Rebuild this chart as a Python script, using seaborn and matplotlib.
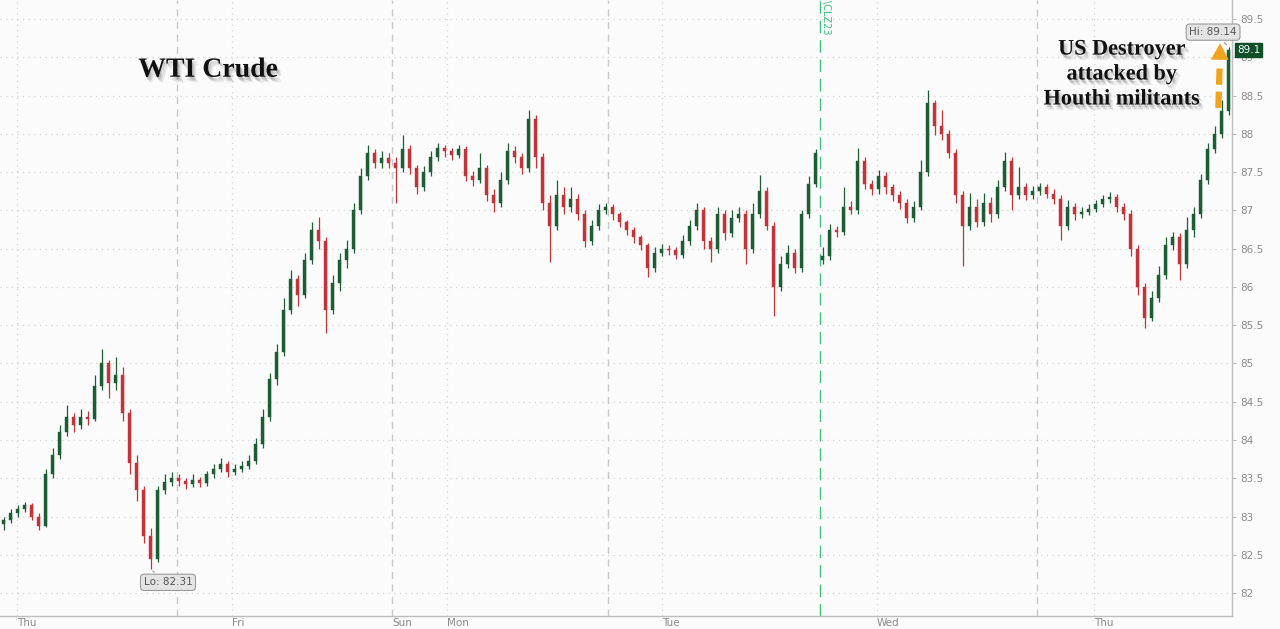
"""
wti_crude_candles.py
Recreates the WTI crude intraday candlestick chart (week view) with the
Houthi / US destroyer annotation.
"""

import numpy as np
import pandas as pd
import matplotlib
matplotlib.use("Agg")
import matplotlib.pyplot as plt
import matplotlib.patheffects as pe
import seaborn as sns

# ==============================================================================
# DATA (one candle per ~40 minutes)
# ==============================================================================

FIRST_OPEN = 82.90
GAP_OPENS = {117: 86.35}   # contract roll: new open after the CLZ23 line

CLOSES = [
    82.95, 83.05, 83.10, 83.15, 83.00, 82.88, 83.55, 83.80, 84.10, 84.30,
    84.20, 84.30, 84.28, 84.70, 85.00, 84.75, 84.85, 84.35, 83.70, 83.35,
    82.75, 82.45, 83.35, 83.45, 83.50, 83.46, 83.42, 83.48, 83.44, 83.55,
    83.62, 83.68, 83.58, 83.62, 83.66, 83.72, 83.95, 84.30, 84.80, 85.15,
    85.70, 86.10, 85.90, 86.35, 86.75, 86.60, 85.70, 86.05, 86.35, 86.50,
    87.00, 87.45, 87.75, 87.62, 87.68, 87.62, 87.55, 87.80, 87.55, 87.30,
    87.50, 87.70, 87.82, 87.78, 87.72, 87.80, 87.45, 87.40, 87.55, 87.20,
    87.10, 87.40, 87.78, 87.70, 87.55, 88.20, 87.70, 87.10, 86.80, 87.20,
    87.05, 87.15, 86.95, 86.60, 86.80, 87.00, 87.05, 86.95, 86.85, 86.75,
    86.65, 86.55, 86.25, 86.45, 86.50, 86.48, 86.42, 86.60, 86.80, 87.00,
    86.60, 86.50, 86.95, 86.70, 86.90, 86.95, 86.50, 86.95, 87.25, 86.80,
    86.00, 86.30, 86.45, 86.25, 86.95, 87.35, 87.75, 86.40, 86.75, 86.72,
    87.05, 87.00, 87.65, 87.35, 87.28, 87.45, 87.30, 87.20, 87.10, 86.90,
    87.05, 87.50, 88.40, 88.10, 88.00, 87.75, 87.20, 86.80, 87.05, 86.85,
    87.10, 86.95, 87.30, 87.65, 87.20, 87.30, 87.20, 87.25, 87.30, 87.22,
    87.15, 86.80, 87.05, 86.95, 86.98, 87.02, 87.08, 87.15, 87.18, 87.05,
    86.95, 86.50, 86.00, 85.60, 85.85, 86.15, 86.55, 86.65, 86.30, 86.75,
    86.95, 87.40, 87.80, 88.00, 88.30, 89.10,
]

HIGHS = [
    83.00, 83.10, 83.15, 83.19, 83.18, 83.05, 83.62, 83.90, 84.20, 84.46,
    84.35, 84.40, 84.38, 84.85, 85.19, 85.05, 85.08, 84.95, 84.40, 83.80,
    83.40, 82.85, 83.40, 83.55, 83.58, 83.56, 83.50, 83.55, 83.52, 83.60,
    83.68, 83.76, 83.72, 83.68, 83.72, 83.80, 84.02, 84.40, 84.88, 85.25,
    85.85, 86.22, 86.15, 86.45, 86.85, 86.91, 86.65, 86.15, 86.45, 86.62,
    87.10, 87.55, 87.85, 87.80, 87.78, 87.75, 87.70, 87.98, 87.85, 87.60,
    87.58, 87.78, 87.88, 87.86, 87.82, 87.86, 87.84, 87.52, 87.75, 87.60,
    87.28, 87.50, 87.88, 87.84, 87.75, 88.31, 88.25, 87.75, 87.20, 87.40,
    87.30, 87.30, 87.22, 87.00, 86.88, 87.08, 87.10, 87.08, 86.98, 86.88,
    86.78, 86.68, 86.58, 86.52, 86.56, 86.55, 86.52, 86.68, 86.88, 87.10,
    87.04, 86.65, 87.04, 87.00, 87.00, 87.05, 87.00, 87.10, 87.46, 87.30,
    86.85, 86.40, 86.55, 86.50, 87.00, 87.45, 87.80, 86.52, 86.82, 86.80,
    87.31, 87.12, 87.82, 87.70, 87.40, 87.53, 87.50, 87.35, 87.25, 87.15,
    87.12, 87.66, 88.57, 88.44, 88.31, 88.05, 87.80, 87.25, 87.23, 87.15,
    87.23, 87.18, 87.40, 87.77, 87.70, 87.57, 87.36, 87.32, 87.36, 87.34,
    87.28, 87.20, 87.13, 87.10, 87.04, 87.08, 87.14, 87.20, 87.24, 87.22,
    87.10, 87.00, 86.55, 86.05, 85.95, 86.27, 86.65, 86.72, 86.70, 86.91,
    87.05, 87.48, 87.88, 88.10, 88.44, 89.14,
]

LOWS = [
    82.82, 82.92, 83.00, 83.06, 82.95, 82.82, 82.86, 83.50, 83.75, 84.05,
    84.10, 84.15, 84.20, 84.25, 84.65, 84.55, 84.65, 84.25, 83.55, 83.20,
    82.65, 82.31, 82.40, 83.30, 83.40, 83.40, 83.36, 83.38, 83.38, 83.40,
    83.50, 83.58, 83.52, 83.54, 83.58, 83.62, 83.68, 83.90, 84.25, 84.72,
    85.10, 85.65, 85.75, 85.85, 86.30, 86.50, 85.40, 85.65, 85.95, 86.25,
    86.45, 86.95, 87.40, 87.55, 87.55, 87.55, 87.10, 87.50, 87.48, 87.22,
    87.25, 87.45, 87.65, 87.70, 87.66, 87.68, 87.38, 87.32, 87.36, 87.12,
    86.98, 87.05, 87.35, 87.62, 87.48, 87.50, 87.55, 87.00, 86.33, 86.75,
    86.95, 86.98, 86.88, 86.52, 86.55, 86.75, 86.95, 86.88, 86.78, 86.68,
    86.58, 86.48, 86.13, 86.20, 86.40, 86.42, 86.36, 86.38, 86.55, 86.75,
    86.50, 86.33, 86.45, 86.62, 86.65, 86.85, 86.30, 86.45, 86.90, 86.74,
    85.62, 85.95, 86.25, 86.18, 86.20, 86.90, 87.30, 86.30, 86.35, 86.65,
    86.68, 86.95, 86.95, 87.28, 87.20, 87.22, 87.22, 87.12, 87.02, 86.83,
    86.85, 87.00, 87.45, 87.98, 87.92, 87.68, 87.10, 86.27, 86.75, 86.78,
    86.80, 86.85, 86.90, 87.25, 87.00, 87.15, 87.13, 87.15, 87.20, 87.16,
    87.08, 86.61, 86.75, 86.88, 86.90, 86.94, 86.98, 87.04, 87.10, 86.98,
    86.87, 86.40, 85.90, 85.46, 85.55, 85.80, 86.10, 86.48, 86.09, 86.25,
    86.65, 86.90, 87.35, 87.75, 87.95, 88.25,
]

Y_TICKS = [82, 82.5, 83, 83.5, 84, 84.5, 85, 85.5, 86, 86.5, 87, 87.5, 88, 88.5, 89, 89.5]
DAY_NAMES = ["Thu", "Fri", "Sun", "Mon", "Tue", "Wed", "Thu"]
DAY_POS = [1.9, 32.6, 55.5, 63.4, 94.1, 124.8, 155.8]      # candle index units
SESSION_BREAKS = [24.8, 55.5, 86.4, 147.6]
ROLL_POS = 116.7

# ==============================================================================
# COLOURS / STYLE
# ==============================================================================

UP_COLOR = "#1b5e34"
DOWN_COLOR = "#c3343a"
GRID_COLOR = "#d2d2d2"
TEXT_GRAY = "#8a8a8a"
ROLL_COLOR = "#3fbf80"
BG = "#fbfbfb"
ORANGE = "#f2a41c"

sns.set_style("white")
plt.rcParams["font.family"] = ["DejaVu Sans"]

# ==============================================================================
# BUILD CANDLES
# ==============================================================================

df = pd.DataFrame({"close": CLOSES, "high": HIGHS, "low": LOWS})
df["idx"] = np.arange(len(df))
df["open"] = df["close"].shift(1)
df.loc[0, "open"] = FIRST_OPEN
for i, o in GAP_OPENS.items():
    df.loc[i, "open"] = o
df["up"] = df["close"] >= df["open"]
df["body_lo"] = df[["open", "close"]].min(axis=1)
df["body_h"] = (df["close"] - df["open"]).abs().clip(lower=0.02)
df["color"] = np.where(df["up"], UP_COLOR, DOWN_COLOR)

# ==============================================================================
# PLOT
# ==============================================================================

fig = plt.figure(figsize=(12.8, 6.29), dpi=100, facecolor=BG)
ax = fig.add_axes([0, 13 / 629, 1232 / 1280, 616 / 629], facecolor=BG)

ax.set_xlim(-0.5, 1232 / 7 - 0.5)
ax.set_ylim(81.70, 89.75)

# grid
for yv in Y_TICKS:
    ax.axhline(yv, color=GRID_COLOR, lw=0.9, ls=(0, (1, 3.5)), zorder=0)
for xv, name in zip(DAY_POS, DAY_NAMES):
    if name != "Sun":
        ax.axvline(xv, color=GRID_COLOR, lw=0.9, ls=(0, (1, 3.5)), zorder=0)
for xv in SESSION_BREAKS:
    ax.axvline(xv, color="#c8c8c8", lw=1.0, ls=(0, (5, 4)), zorder=0)
ax.axvline(ROLL_POS, color=ROLL_COLOR, lw=1.0, ls=(0, (9, 5)), zorder=1)
ax.text(ROLL_POS + 0.75, 1.0, "\\CLZ23", transform=ax.get_xaxis_transform(),
        rotation=270, ha="center", va="top", fontsize=7, color=ROLL_COLOR)

# candles
ax.vlines(df["idx"], df["low"], df["high"], colors=df["color"], lw=0.9, zorder=2)
ax.bar(df["idx"], df["body_h"], bottom=df["body_lo"], width=0.55,
       color=df["color"], edgecolor=df["color"], lw=0.3, zorder=3)

# axes styling
sns.despine(ax=ax, left=True, top=True, right=False, bottom=False)
for side in ("right", "bottom"):
    ax.spines[side].set_color("#bdbdbd")
    ax.spines[side].set_linewidth(1.0)
ax.yaxis.tick_right()
ax.set_yticks(Y_TICKS)
ax.set_yticklabels([f"{v:g}" for v in Y_TICKS])
ax.tick_params(axis="y", colors="#bdbdbd", labelcolor=TEXT_GRAY, labelsize=7.5,
               length=3, pad=3, right=True)
ax.set_xticks(DAY_POS)
ax.set_xticklabels([])
ax.tick_params(axis="x", colors="#bdbdbd", length=3)
for xv, name in zip(DAY_POS, DAY_NAMES):
    ax.text(xv, -0.004, name, transform=ax.get_xaxis_transform(), ha="left", va="top",
            fontsize=7.5, color=TEXT_GRAY, clip_on=False)

# hi / lo callouts
box = dict(boxstyle="round,pad=0.3,rounding_size=0.35", fc="#e4e4e4", ec="#9a9a9a", lw=0.8)
lo_i = int(np.argmin(LOWS))
hi_i = int(np.argmax(HIGHS))
ax.annotate(f"Lo: {LOWS[lo_i]:.2f}", xy=(lo_i, LOWS[lo_i]), xytext=(23.5, 82.14),
            ha="center", va="center", fontsize=7.5, color="#555555", bbox=box,
            arrowprops=dict(arrowstyle="-", color="#9a9a9a", lw=0.8), zorder=5)
ax.annotate(f"Hi: {HIGHS[hi_i]:.2f}", xy=(hi_i, HIGHS[hi_i]), xytext=(172.8, 89.33),
            ha="center", va="center", fontsize=7.5, color="#555555", bbox=box,
            arrowprops=dict(arrowstyle="-", color="#9a9a9a", lw=0.8), zorder=5)

# last price tag
ax.text(1.004, CLOSES[-1], f"{CLOSES[-1]:g}", transform=ax.get_yaxis_transform(),
        ha="left", va="center", fontsize=7.5, color="white", clip_on=False,
        bbox=dict(boxstyle="square,pad=0.2", fc="#0e4f27", ec="#0e4f27"), zorder=6)

# titles with soft (layered) shadow
shadow = [
    pe.SimplePatchShadow(offset=(1, -2), shadow_rgbFace="#666666", alpha=0.25),
    pe.SimplePatchShadow(offset=(2, -3), shadow_rgbFace="#777777", alpha=0.2),
    pe.SimplePatchShadow(offset=(3, -4), shadow_rgbFace="#888888", alpha=0.15),
    pe.Normal(),
]
ax.text(0.1688, 0.886, "WTI Crude", transform=ax.transAxes, ha="center", va="center",
        fontsize=20, fontweight="bold", family="Liberation Serif", color="#111111",
        path_effects=shadow, zorder=7)
ax.text(0.9107, 0.879, "US Destroyer\nattacked by\nHouthi militants",
        transform=ax.transAxes, ha="center", va="center", linespacing=1.33,
        fontsize=16, fontweight="bold", family="Liberation Serif", color="#111111",
        path_effects=shadow, zorder=7)

# orange dashed arrow
ax.plot([173.55, 173.75], [88.34, 88.93], color=ORANGE, lw=4.5,
        ls=(0, (2.6, 1.1)), solid_capstyle="butt", dash_capstyle="butt", zorder=6)
ax.annotate("", xy=(173.8, 89.22), xytext=(173.75, 88.93),
            arrowprops=dict(arrowstyle="-|>,head_length=1.1,head_width=0.6",
                            color=ORANGE, lw=0.5), zorder=6)

fig.savefig("out.png", dpi=100, facecolor=BG)
plt.close(fig)
